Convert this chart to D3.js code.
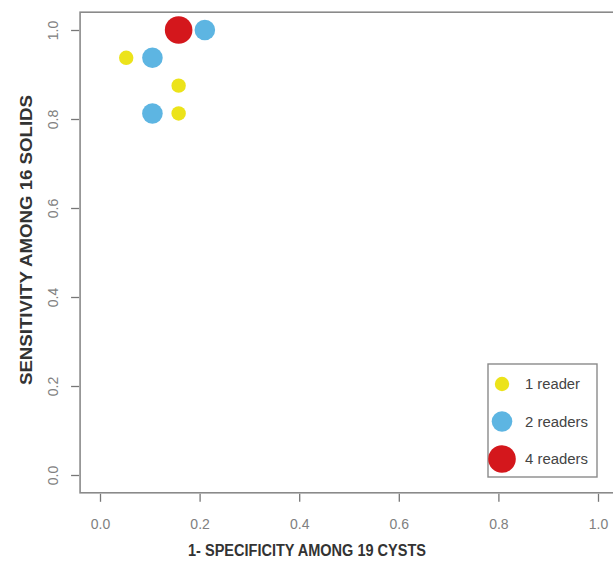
<!DOCTYPE html>
<html><head><meta charset="utf-8">
<script src="https://cdn.jsdelivr.net/npm/d3@7"></script>
<style>body{margin:0;background:#fff}svg{display:block}</style>
</head><body>
<script>
// data: 1-specificity (x), sensitivity (y), number of readers
const fpr = [3/19, 4/19, 1/19, 2/19, 3/19, 2/19, 3/19];
const sens = [1.0, 1.0, 15/16, 15/16, 14/16, 13/16, 13/16];
const readers = [4, 2, 1, 2, 1, 2, 1];
const xTicks = [0, 0.2, 0.4, 0.6, 0.8, 1.0];
const yTicks = [0, 0.2, 0.4, 0.6, 0.8, 1.0];
const legendLabels = ["1 reader", "2 readers", "4 readers"];
const legendReaders = [1, 2, 4];

const W = 613, H = 567;
const svg = d3.select("body").append("svg").attr("width", W).attr("height", H);

const x = d3.scaleLinear().domain([0, 1]).range([100, 598]);
const y = d3.scaleLinear().domain([0, 1]).range([475, 30]);
const color = d3.scaleOrdinal().domain([1, 2, 4]).range(["#ece31a", "#5db5e2", "#d4171c"]);
const rad = d3.scaleOrdinal().domain([1, 2, 4]).range([7.2, 10.3, 13.8]);

const font = "Liberation Sans, Arial, sans-serif";
const narrow = "Liberation Sans Narrow, Arial Narrow, Liberation Sans, Arial, sans-serif";

// box
svg.append("rect")
  .attr("x", x(-0.04)).attr("y", y(1.04))
  .attr("width", x(1.04) - x(-0.04)).attr("height", y(-0.04) - y(1.04))
  .attr("fill", "none").attr("stroke", "#8a8a8a").attr("stroke-width", 1.6);

// x axis
const xAxis = d3.axisBottom(x).tickValues(xTicks).tickFormat(d3.format(".1f")).tickSize(8);
const gx = svg.append("g").attr("transform", `translate(0,${y(-0.04)+1})`).call(xAxis);
gx.select(".domain").remove();
gx.selectAll(".tick line").attr("stroke", "#777").attr("stroke-width", 1.3);
gx.selectAll(".tick text").attr("font-family", font).attr("font-size", 14).attr("fill", "#808080")
  .attr("dy", null).attr("y", 35);

// y axis
const yAxis = d3.axisLeft(y).tickValues(yTicks).tickFormat(d3.format(".1f")).tickSize(8);
const gy = svg.append("g").attr("transform", `translate(${x(-0.04)-1},0)`).call(yAxis);
gy.select(".domain").remove();
gy.selectAll(".tick line").attr("stroke", "#777").attr("stroke-width", 1.3);
gy.selectAll(".tick text")
  .attr("font-family", font).attr("font-size", 14).attr("fill", "#808080")
  .attr("x", null).attr("dy", null)
  .attr("text-anchor", "middle")
  .attr("transform", "translate(-26,0) rotate(-90)")
  .attr("dominant-baseline", "central");

// axis titles
svg.append("text").attr("x", 307).attr("y", 556)
  .attr("text-anchor", "middle").attr("font-family", narrow).attr("font-size", 16)
  .attr("font-weight", "bold").attr("fill", "#333")
  .attr("textLength", 238).attr("lengthAdjust", "spacingAndGlyphs")
  .text("1- SPECIFICITY AMONG 19 CYSTS");

svg.append("text").attr("transform", "translate(32,240) rotate(-90)")
  .attr("text-anchor", "middle").attr("font-family", narrow).attr("font-size", 16)
  .attr("font-weight", "bold").attr("fill", "#333")
  .attr("textLength", 290).attr("lengthAdjust", "spacingAndGlyphs")
  .text("SENSITIVITY AMONG 16 SOLIDS");

// points
const pts = fpr.map((d, i) => ({x: d, y: sens[i], r: readers[i]}));
svg.append("g").selectAll("circle").data(pts).join("circle")
  .attr("cx", d => x(d.x)).attr("cy", d => y(d.y))
  .attr("r", d => rad(d.r)).attr("fill", d => color(d.r));

// legend
const lg = svg.append("g");
lg.append("rect").attr("x", 488).attr("y", 364).attr("width", 109).attr("height", 113)
  .attr("fill", "#fff").attr("stroke", "#8a8a8a").attr("stroke-width", 1.4);
const ly = d3.scalePoint().domain(legendReaders).range([384, 459]);
lg.selectAll("circle").data(legendReaders).join("circle")
  .attr("cx", 502).attr("cy", d => ly(d)).attr("r", d => rad(d)).attr("fill", d => color(d));
lg.selectAll("text").data(legendReaders).join("text")
  .attr("x", 525).attr("y", d => ly(d)).attr("dominant-baseline", "central")
  .attr("font-family", narrow).attr("font-size", 14).attr("fill", "#444")
  .attr("textLength", (d, i) => i === 0 ? 55 : 63).attr("lengthAdjust", "spacingAndGlyphs")
  .text((d, i) => legendLabels[i]);
</script>
</body></html>
